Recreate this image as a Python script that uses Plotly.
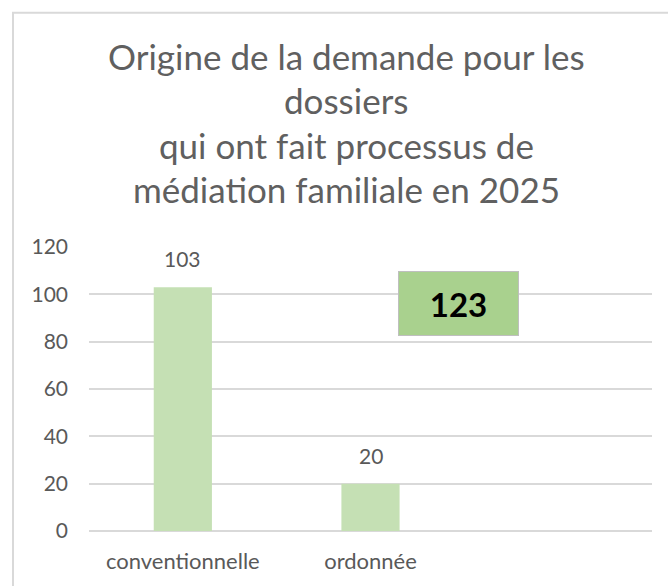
import plotly.graph_objects as go

categories = ["conventionnelle", "ordonnée"]
values = [103, 20]
total_label = "123"
title_lines = [
    "Origine de la demande pour les",
    "dossiers",
    "qui ont fait processus de",
    "médiation familiale en 2025",
]
y_ticks = [0, 20, 40, 60, 80, 100, 120]

W, H = 668, 586
L, R, T, B = 89, 16, 247, 53
pw, ph = W - L - R, H - T - B

def px_x(px):
    return (px - L) / pw

def px_y(py):
    return (H - B - py) / ph

FONT = "Lato"
GREY = "#595959"

fig = go.Figure()
fig.add_trace(go.Bar(
    x=categories, y=values,
    marker=dict(color="#C5E0B4", line=dict(width=0)),
    hoverinfo="skip",
))

annotations = []
for c, v in zip(categories, values):
    annotations.append(dict(
        x=c, y=v, xref="x", yref="y", text=str(v), showarrow=False,
        yanchor="bottom", yshift=14,
        font=dict(family=FONT, size=21, color=GREY),
    ))

title_y = [55, 99, 144, 189]
for line, ty in zip(title_lines, title_y):
    annotations.append(dict(
        x=px_x(346), y=px_y(ty), xref="paper", yref="paper", text=line,
        showarrow=False, xanchor="center", yanchor="middle",
        font=dict(family=FONT, size=35, color="#606060"),
    ))

annotations.append(dict(
    x=px_x(458.5), y=px_y(303.5), xref="paper", yref="paper",
    text="<b>" + total_label + "</b>", showarrow=False,
    xanchor="center", yanchor="middle",
    width=117, height=61, borderpad=1, borderwidth=1,
    bgcolor="#A9D18E", bordercolor="#BFBFBF",
    font=dict(family=FONT, size=33, color="#000000"),
))

fig.update_layout(
    width=W, height=H,
    margin=dict(l=L, r=R, t=T, b=B, pad=0),
    paper_bgcolor="white", plot_bgcolor="white",
    showlegend=False,
    bargap=0.69,
    annotations=annotations,
    shapes=[dict(
        type="rect", xref="paper", yref="paper",
        x0=px_x(13), x1=px_x(720), y0=px_y(620), y1=px_y(11),
        line=dict(color="#D9D9D9", width=2), fillcolor="rgba(0,0,0,0)",
        layer="below",
    )],
    xaxis=dict(
        type="category", range=[-0.5, 2.5],
        showgrid=False, showline=False, zeroline=False, ticks="",
        tickfont=dict(family=FONT, size=22, color=GREY),
        ticklabelstandoff=15,
    ),
    yaxis=dict(
        range=[0, 120], tickvals=y_ticks,
        showgrid=True, gridcolor="#D9D9D9", gridwidth=1.5,
        zeroline=True, zerolinecolor="#D9D9D9", zerolinewidth=1.5,
        showline=False, ticks="",
        tickfont=dict(family=FONT, size=21, color=GREY),
        ticklabelstandoff=20,
    ),
)

fig.write_html(
    "out.html",
    config={"displayModeBar": False},
    post_script="document.body.style.margin='0';document.body.style.padding='0';",
)
